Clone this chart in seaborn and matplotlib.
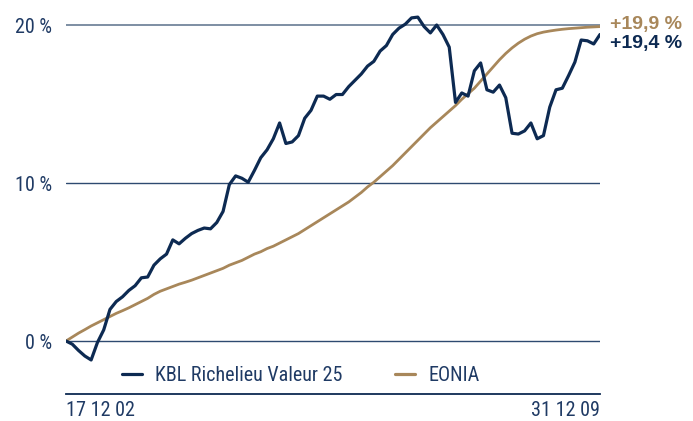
import pandas as pd
import matplotlib.pyplot as plt
import seaborn as sns
from matplotlib import font_manager

# cumulative performance (%), monthly, 17 12 02 -> 31 12 09
kbl = [0.0, -0.2, -0.6, -0.95, -1.2, -0.1, 0.7, 2.0, 2.5, 2.8,
       3.2, 3.5, 4.0, 4.05, 4.8, 5.2, 5.5, 6.4, 6.15, 6.5,
       6.8, 7.0, 7.15, 7.1, 7.5, 8.2, 9.9, 10.45, 10.3, 10.05,
       10.8, 11.6, 12.1, 12.8, 13.8, 12.5, 12.6, 13.0, 14.1, 14.6,
       15.5, 15.5, 15.3, 15.6, 15.6, 16.1, 16.5, 16.9, 17.4, 17.7,
       18.35, 18.7, 19.4, 19.8, 20.05, 20.45, 20.5, 19.9, 19.5, 20.0,
       19.4, 18.6, 15.1, 15.7, 15.5, 17.1, 17.6, 15.9, 15.75, 16.2,
       15.4, 13.15, 13.1, 13.3, 13.8, 12.8, 13.0, 14.8, 15.9, 16.0,
       16.8, 17.65, 19.05, 19.0, 18.8, 19.4]
eonia = [0.0, 0.25, 0.5, 0.72, 0.95, 1.15, 1.35, 1.55, 1.75, 1.92,
         2.1, 2.3, 2.5, 2.7, 2.95, 3.15, 3.3, 3.45, 3.6, 3.72,
         3.85, 4.0, 4.15, 4.3, 4.45, 4.6, 4.8, 4.95, 5.1, 5.3,
         5.5, 5.65, 5.85, 6.0, 6.2, 6.4, 6.6, 6.8, 7.05, 7.3,
         7.55, 7.8, 8.05, 8.3, 8.55, 8.8, 9.1, 9.4, 9.75, 10.05,
         10.4, 10.75, 11.1, 11.5, 11.9, 12.3, 12.7, 13.1, 13.5, 13.85,
         14.2, 14.55, 14.9, 15.3, 15.65, 16.0, 16.45, 16.9, 17.35, 17.8,
         18.2, 18.55, 18.85, 19.1, 19.3, 19.45, 19.55, 19.62, 19.68, 19.73,
         19.77, 19.8, 19.83, 19.86, 19.88, 19.9]
x_labels = ['17 12 02', '31 12 09']
y_ticks = [0, 10, 20]
y_labels = ['0 %', '10 %', '20 %']
end_labels = ['+19,9 %', '+19,4 %']

navy = '#0d2a52'
gold = '#a8875a'
text_col = '#1f3a64'

sns.set_style('white')
names = {f.name for f in font_manager.fontManager.ttflist}
main_font = 'DejaVu Sans'
for cand in ['Liberation Sans Narrow', 'Roboto Condensed', 'Roboto']:
    if cand in names:
        main_font = cand
        break
bold_font = 'Liberation Sans' if 'Liberation Sans' in names else 'DejaVu Sans'
plt.rcParams['font.family'] = [main_font, 'DejaVu Sans']

df = pd.DataFrame({'m': range(len(kbl)), 'kbl': kbl, 'eonia': eonia})

fig = plt.figure(figsize=(6.93, 4.21), dpi=100)
ax = fig.add_axes([66 / 693, 1 - 394 / 421, 534 / 693, 384 / 421])

for y, c, lw in [(0, '#2e4a70', 1.0), (10, '#2e4a70', 1.0), (20, '#7d8ea3', 1.4)]:
    ax.axhline(y, color=c, lw=lw, zorder=1)

sns.lineplot(data=df, x='m', y='eonia', ax=ax, color=gold, lw=2.0, zorder=3)
sns.lineplot(data=df, x='m', y='kbl', ax=ax, color=navy, lw=2.3, zorder=4)

ax.set_xlim(0, len(kbl) - 1)
ax.set_ylim(-3.354, 20.95)
ax.set_xlabel('')
ax.set_ylabel('')
for s in ['top', 'right', 'left']:
    ax.spines[s].set_visible(False)
ax.spines['bottom'].set_color(navy)
ax.spines['bottom'].set_linewidth(1.3)

ax.set_yticks(y_ticks)
ax.set_yticklabels(y_labels, fontsize=14.5, color=text_col)
ax.tick_params(axis='y', length=0, pad=10)
ax.set_xticks([0, len(kbl) - 1])
ax.set_xticklabels(x_labels, fontsize=14.5, color=text_col)
ax.tick_params(axis='x', length=0, pad=5)
xt = ax.get_xticklabels()
xt[0].set_ha('left')
xt[1].set_ha('right')

ax.text(1.018, eonia[-1] + 0.15, end_labels[0], transform=ax.get_yaxis_transform(),
        color=gold, fontsize=14, fontweight='bold', family=[bold_font, 'DejaVu Sans'],
        va='center', ha='left')
ax.text(1.018, kbl[-1] - 0.6, end_labels[1], transform=ax.get_yaxis_transform(),
        color=navy, fontsize=14, fontweight='bold', family=[bold_font, 'DejaVu Sans'],
        va='center', ha='left')

h1, = ax.plot([], [], color=navy, lw=2.3)
h2, = ax.plot([], [], color=gold, lw=2.3)
leg = ax.legend([h1, h2], ['KBL Richelieu Valeur 25', 'EONIA'], ncol=2,
                loc='center left', bbox_to_anchor=(0.105, 0.047), frameon=False,
                borderpad=0, borderaxespad=0,
                handlelength=1.0, handletextpad=0.65, columnspacing=2.6,
                fontsize=14.5)
for t in leg.get_texts():
    t.set_color(text_col)

fig.savefig('out.png', dpi=100)
